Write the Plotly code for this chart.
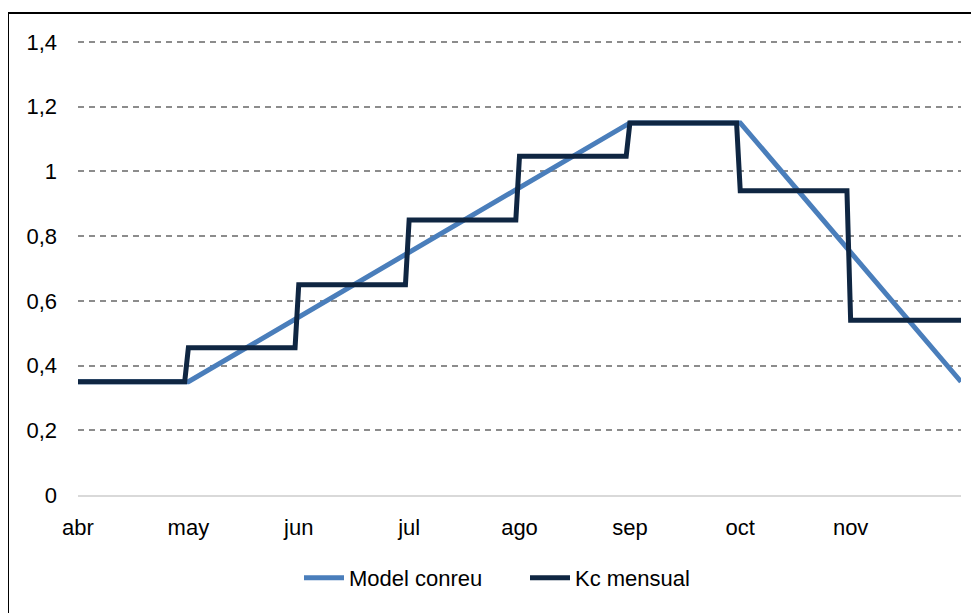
import plotly.graph_objects as go

# ---- data ----
months = ["abr", "may", "jun", "jul", "ago", "sep", "oct", "nov"]
model_x = [0, 1, 5, 6, 8]              # month index of model nodes
model_kc = [0.35, 0.35, 1.15, 1.15, 0.35]
kc_monthly = [0.35, 0.455, 0.65, 0.85, 1.047, 1.15, 0.94, 0.54]
y_ticks = [0, 0.2, 0.4, 0.6, 0.8, 1, 1.2, 1.4]

# build step series (daily resolution: change happens over one day)
kx, ky = [], []
for i, v in enumerate(kc_monthly):
    kx.append(i)
    ky.append(v)
    kx.append(i + 1 - 1 / 30 if i < len(kc_monthly) - 1 else i + 1)
    ky.append(v)

FONT = "Liberation Sans"
FS = 22
fig = go.Figure()
fig.add_trace(go.Scatter(x=model_x, y=model_kc, mode="lines", name="Model conreu",
                         line=dict(color="#4a7ebb", width=5)))
fig.add_trace(go.Scatter(x=kx, y=ky, mode="lines", name="Kc mensual",
                         line=dict(color="#0f2642", width=5)))

# page has 8px body margin -> figure sized/positioned accordingly
W, H = 971, 605
L, R, T, B = 70, 18, 31, 118
pw, ph = W - L - R, H - T - B
ytop = 1.4 * ph / 453

fig.update_layout(
    width=W, height=H,
    margin=dict(l=L, r=R, t=T, b=B, pad=0),
    paper_bgcolor="white", plot_bgcolor="white",
    separators=", ",
    font=dict(family=FONT, size=FS, color="#000000"),
    showlegend=True,
    legend=dict(orientation="h", x=(517 - L) / pw, xanchor="center",
                y=(H - B - 570) / ph, yanchor="middle",
                font=dict(family=FONT, size=FS, color="#000000"),
                itemwidth=40, entrywidth=171, entrywidthmode="pixels",
                bgcolor="rgba(0,0,0,0)"),
    xaxis=dict(range=[0, 8], tickvals=list(range(len(months))), ticktext=months,
               showgrid=False, zeroline=False, showline=True, linecolor="#d9d9d9",
               linewidth=1.5, ticks="", ticklabelstandoff=12,
               tickfont=dict(family=FONT, size=FS, color="#000000")),
    yaxis=dict(range=[0, ytop], tickvals=y_ticks,
               showgrid=True, gridcolor="#8c8c8c",
               griddash="6px,5px", gridwidth=1.5, zeroline=False, showline=False,
               ticks="", ticklabelstandoff=20,
               tickfont=dict(family=FONT, size=FS, color="#000000")),
    shapes=[dict(type="rect", xref="paper", yref="paper",
                 x0=(0 - L) / pw, x1=(W + 20 - L) / pw,
                 y0=-(B + 20) / ph, y1=1 + (T - 5) / ph,
                 line=dict(color="black", width=2), layer="above")],
)

fig.write_html("out.html")
